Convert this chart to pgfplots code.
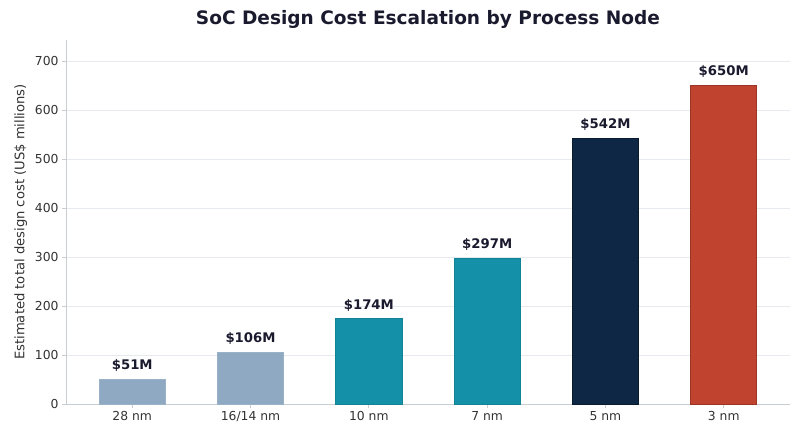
\documentclass[border=0pt]{standalone}
\usepackage{pgfplots}
\pgfplotsset{compat=1.18}
\usepackage{fontspec}
\setmainfont{DejaVu Sans}
\definecolor{steel}{HTML}{8FA9C2}
\definecolor{tealc}{HTML}{1490A8}
\definecolor{navy}{HTML}{0E2744}
\definecolor{redc}{HTML}{C0432F}
\definecolor{titlec}{HTML}{1A1A2E}
\definecolor{tickc}{HTML}{333333}
\definecolor{spine}{HTML}{C8CDD2}
\definecolor{gridc}{HTML}{E6EAEE}
\begin{document}
\begin{tikzpicture}
\begin{axis}[
  scale only axis,
  width=724bp, height=364bp,
  xmin=-0.56, xmax=5.56,
  ymin=0, ymax=743,
  axis x line*=bottom, axis y line*=left,
  axis line style={spine, line width=0.8pt},
  every tick/.style={spine, line width=0.8pt},
  tick align=outside,
  major tick length=4bp,
  xtick={0,1,2,3,4,5},
  xticklabels={28 nm,16/14 nm,10 nm,7 nm,5 nm,3 nm},
  ytick={0,100,200,300,400,500,600,700},
  ymajorgrids,
  grid style={gridc, line width=0.6pt},
  /pgf/number format/assume math mode=true,
  tick label style={font=\fontsize{12.4}{14}\selectfont, text=tickc},
  ylabel={Estimated total design cost (US\$ millions)},
  ylabel style={font=\fontsize{13.2}{15}\selectfont, text=tickc, yshift=1bp},
  title={SoC Design Cost Escalation by Process Node},
  title style={font=\bfseries\fontsize{18.6}{22}\selectfont, text=titlec, yshift=2bp},
  ybar, bar width=0.56, bar shift=0pt,
  point meta=explicit symbolic,
  nodes near coords,
  nodes near coords style={font=\bfseries\fontsize{13.3}{15}\selectfont, text=titlec, anchor=south, yshift=4bp},
  clip=false,
]
\addplot[fill=steel, draw=steel!90!white, line width=0.6pt] coordinates {(0,51)[\$51M] (1,106)[\$106M]};
\addplot[fill=tealc, draw=tealc!90!black, line width=0.6pt] coordinates {(2,174)[\$174M] (3,297)[\$297M]};
\addplot[fill=navy, draw=navy!70!black, line width=0.8pt] coordinates {(4,542)[\$542M]};
\addplot[fill=redc, draw=redc!80!black, line width=0.8pt] coordinates {(5,650)[\$650M]};
\end{axis}
\pgfresetboundingbox
\path[use as bounding box] (-66bp,-32bp) rectangle (734bp,404bp);
\end{tikzpicture}
\end{document}
